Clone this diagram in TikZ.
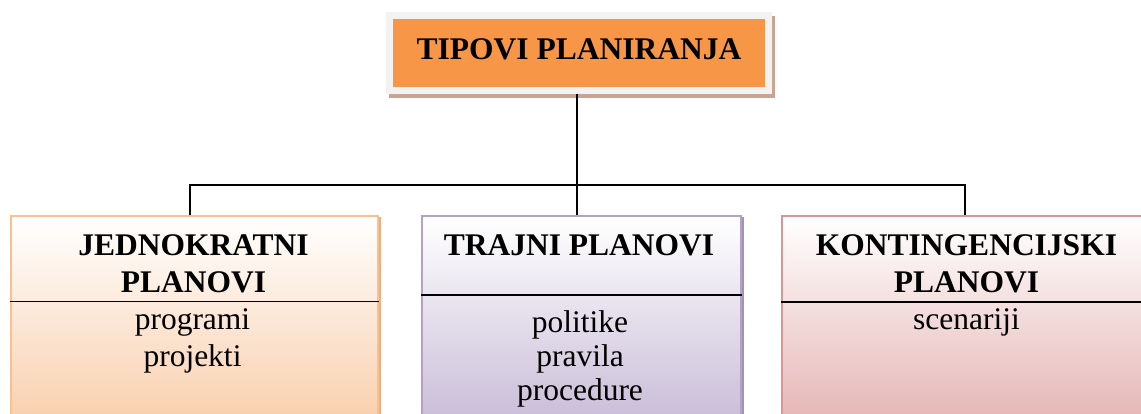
\documentclass[tikz,border=0pt]{standalone}
\usepackage{fontspec}
\setmainfont{Liberation Serif}
\usetikzlibrary{backgrounds}
\definecolor{torange}{HTML}{F79646}
\definecolor{tframe}{HTML}{F2F2F2}
\definecolor{tshadow}{HTML}{CBA393}
\definecolor{lborder}{HTML}{FAC090}
\definecolor{lfill}{HTML}{F9CFAD}
\definecolor{lshadow}{HTML}{F0AE80}
\definecolor{mborder}{HTML}{B3A2C7}
\definecolor{mfill}{HTML}{C9BDD8}
\definecolor{mshadow}{HTML}{A292B8}
\definecolor{rborder}{HTML}{D99694}
\definecolor{rfill}{HTML}{E5B6B5}
\definecolor{rshadow}{HTML}{C98482}
\tikzset{
  hdr/.style={font=\fontsize{31.5}{37}\selectfont\bfseries, align=center, inner sep=0pt, anchor=north},
  bodytext/.style={font=\fontsize{31.5}{36.5}\selectfont, align=center, inner sep=0pt, anchor=north},
  bodytextm/.style={font=\fontsize{31.5}{34.3}\selectfont, align=center, inner sep=0pt, anchor=north},
  plan/.style={rectangle, line width=2.3pt, minimum height=205pt, anchor=north, inner sep=0pt},
  conn/.style={draw=black, line width=1.5pt},
  divider/.style={draw=black, line width=1.6pt},
}
\begin{document}
\begin{tikzpicture}[x=1pt,y=-1pt]
\useasboundingbox (0,0) rectangle (1141,414);
\clip (0,0) rectangle (1141,414);

% title
\node[rectangle, fill=torange, draw=tframe, line width=7pt, minimum width=379pt, minimum height=75pt,
      font=\fontsize{31.5}{37}\selectfont\bfseries, text height=21pt, text depth=8pt, inner sep=0pt]
      (title) at (579,53) {TIPOVI PLANIRANJA};

% boxes
\node[plan, draw=lborder, top color=white, bottom color=lfill, minimum width=366.6pt] (lbox) at (194.5,215.2) {};
\node[plan, draw=mborder, top color=white, bottom color=mfill, minimum width=318.6pt] (mbox) at (581.5,215.2) {};
\node[plan, draw=rborder, top color=white, bottom color=rfill, minimum width=378pt] (rbox) at (971,215.2) {};

% shadows
\begin{scope}[on background layer]
\fill[white] (0,0) rectangle (1141,414);
\fill[tshadow] ([shift={(3pt,-4pt)}]title.north west) rectangle ([shift={(3pt,-4pt)}]title.south east);
\fill[lshadow] ([shift={(2pt,-2pt)}]lbox.north west) rectangle ([shift={(2pt,-2pt)}]lbox.south east);
\fill[mshadow] ([shift={(2pt,-2pt)}]mbox.north west) rectangle ([shift={(2pt,-2pt)}]mbox.south east);
\fill[rshadow] ([shift={(2pt,-2pt)}]rbox.north west) rectangle ([shift={(2pt,-2pt)}]rbox.south east);
\end{scope}

% dividers
\draw[divider] (lbox.west |- 0,301.5) -- (lbox.east |- 0,301.5);
\draw[divider] (mbox.west |- 0,295) -- (mbox.east |- 0,295);
\draw[divider] (rbox.west |- 0,302) -- (rbox.east |- 0,302);

% texts
\node[hdr] (lhead) at (193.5,234.4) {JEDNOKRATNI\\PLANOVI};
\node[hdr] (mhead) at (579,234.4) {TRAJNI PLANOVI};
\node[hdr] (rhead) at (966.5,234.4) {KONTINGENCIJSKI\\PLANOVI};
\node[bodytext] (lbody) at (192.5,308.5) {programi\\projekti};
\node[bodytextm] (mbody) at (580,310) {politike\\pravila\\procedure};
\node[bodytext] (rbody) at (966.5,308.5) {scenariji};

% connectors
\coordinate (bus) at (577,185);
\draw[conn] ([xshift=-2pt]title.south) -- ([xshift=-2pt]title.south |- bus);
\draw[conn] ([xshift=-4.5pt]lbox.north) |- (bus) -| ([xshift=-6pt]rbox.north);
\draw[conn] ([xshift=-4.5pt]mbox.north) -- ([xshift=-4.5pt]mbox.north |- bus);
\end{tikzpicture}
\end{document}
